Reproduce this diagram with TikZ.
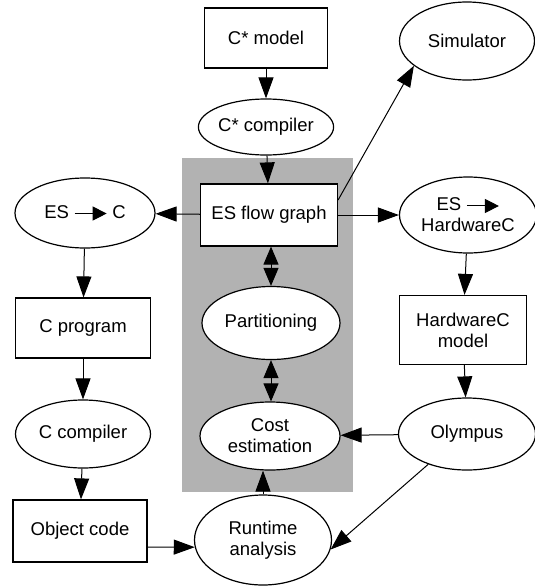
\documentclass[tikz,border=0pt]{standalone}
\usepackage{fontspec}
\setmainfont{Liberation Sans}
\usetikzlibrary{arrows.meta,shapes.geometric}
\newcommand{\inarr}{\tikz[baseline=-0.5ex]\draw[line width=1pt,-{Triangle[length=14pt,width=14pt]}] (0,0)--(32pt,0);}
\tikzset{
  box/.style={draw,line width=1.2pt,rectangle,inner sep=0pt,align=center,fill=white},
  oval/.style={draw,line width=1.2pt,ellipse,inner sep=0pt,align=center,fill=white},
  arr/.style={line width=1pt,-{Triangle[length=21pt,width=15pt]}},
  darr/.style={line width=1pt,{Triangle[length=18pt,width=15pt]}-{Triangle[length=18pt,width=15pt]}},
}
\begin{document}
\begin{tikzpicture}[x=1pt,y=-1pt,font=\fontsize{18.5}{21}\selectfont]
\useasboundingbox (0,0) rectangle (535,587);
\fill[black!30] (182,158) rectangle (353,492);
\node[box,minimum width=123,minimum height=60] (cm) at (266,38) {C* model};
\node[oval,minimum width=124,minimum height=56] (cc) at (266,127) {C* compiler};
\node[oval,minimum width=135,minimum height=78] (sim) at (467,41) {Simulator};
\node[box,minimum width=137,minimum height=62] (fg) at (269,215) {ES flow graph};
\node[oval,minimum width=140,minimum height=70] (esc) at (85,213) {ES \inarr\ C};
\node[oval,minimum width=137,minimum height=76] (eshc) at (468,215) {ES \inarr\\HardwareC};
\node[oval,minimum width=138,minimum height=73] (part) at (271,323) {Partitioning};
\node[oval,minimum width=140,minimum height=68] (ce) at (270,436) {Cost\\estimation};
\node[box,minimum width=135,minimum height=60] (cp) at (83,328) {C program};
\node[box,minimum width=127,minimum height=69] (hcm) at (463,330) {HardwareC\\model};
\node[oval,minimum width=135,minimum height=68] (ccomp) at (83,434) {C compiler};
\node[oval,minimum width=137,minimum height=72] (oly) at (467,434) {Olympus};
\node[box,minimum width=134,minimum height=62] (oc) at (80,531) {Object code};
\node[oval,minimum width=137,minimum height=90] (rt) at (263,540) {Runtime\\analysis};
\draw[arr] (cm) -- (cc);
\draw[arr] (cc) -- (fg);
\draw[arr] ([yshift=15pt]fg.east) -- (sim.205);
\draw[arr] (fg) -- (esc);
\draw[arr] (fg) -- (eshc);
\draw[darr] (part.north |- fg.south) -- (part.north);
\draw[darr] (part.south) -- (part.south |- ce.north);
\draw[arr] (esc) -- (cp);
\draw[arr] (cp) -- (ccomp);
\draw[arr] (ccomp) -- (oc);
\draw[arr] (eshc) -- (hcm);
\draw[arr] (hcm) -- (oly);
\draw[arr] (oly) -- (ce);
\draw[arr] (oly.218) -- (rt.352);
\draw[arr] ([yshift=-16pt]oc.east) -- (rt.186);
\draw[arr] (rt.north) -- (rt.north |- ce.south);
\end{tikzpicture}
\end{document}
